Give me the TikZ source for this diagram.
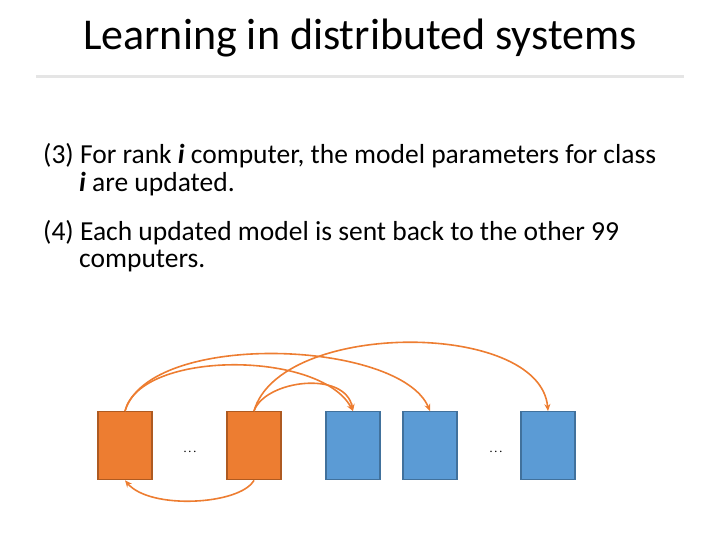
\documentclass[tikz,border=0pt]{standalone}
\usepackage{fontspec}
\setmainfont{Carlito}
\usetikzlibrary{shapes.geometric,arrows.meta}
\definecolor{orfill}{RGB}{237,125,49}
\definecolor{ordraw}{RGB}{174,90,33}
\definecolor{blfill}{RGB}{91,155,213}
\definecolor{bldraw}{RGB}{65,113,156}
\definecolor{arr}{RGB}{237,125,49}
\tikzset{
  disk/.style={cylinder, shape border rotate=90, draw, line width=1.3pt,
    minimum width=54pt, minimum height=68pt, shape aspect=0.9, inner sep=0pt},
  orangedisk/.style={disk, fill=orfill, draw=ordraw},
  bluedisk/.style={disk, fill=blfill, draw=bldraw},
  send/.style={-{Stealth[length=7pt,width=6pt]}, arr, line width=1.6pt},
  txt/.style={anchor=west, inner sep=0pt, font=\fontsize{27.5}{32}\selectfont}
}
\begin{document}
\begin{tikzpicture}[x=1pt,y=-1pt]
\useasboundingbox (0,0) rectangle (720,540);
%-------->title<--------------
\node[font=\fontsize{44}{48}\selectfont] (title) at (360,38) {Learning in distributed systems};
\draw[gray!20, line width=3pt] (36,77) -- (684,77);
%-------->text<--------------
\node[txt] (l1) at (43,156) {(3) For rank \textbf{\textit{i}} computer, the model parameters for class};
\node[txt] (l2) at (79,184) {\textbf{\textit{i}} are updated.};
\node[txt] (l3) at (43,233) {(4) Each updated model is sent back to the other 99};
\node[txt] (l4) at (79,261) {computers.};
%-------->disks<--------------
\node[orangedisk] (c1) at (125,446) {};
\node[orangedisk] (c2) at (254,446) {};
\node[bluedisk] (b1) at (353,446) {};
\node[bluedisk] (b2) at (430,446) {};
\node[bluedisk] (b3) at (548,446) {};
\node (d1) at (190,452) {\Large\textbf{$\cdot\!\cdot\!\cdot$}};
\node (d2) at (496,452) {\Large\textbf{$\cdot\!\cdot\!\cdot$}};
%-------->arrows<--------------
\draw[send] (c1.top) .. controls (140,350) and (320,350) .. (b1.top);
\draw[send] (c1.top) .. controls (150,330) and (400,340) .. (b2.top);
\draw[send] (c2.top) .. controls (265,380) and (345,370) .. (b1.top);
\draw[send] (c2.top) .. controls (280,320) and (540,320) .. (b3.top);
\draw[send, {Stealth[length=7pt,width=6pt]}-] (c1.bottom) .. controls (150,510) and (240,505) .. (c2.bottom);
\end{tikzpicture}
\end{document}
